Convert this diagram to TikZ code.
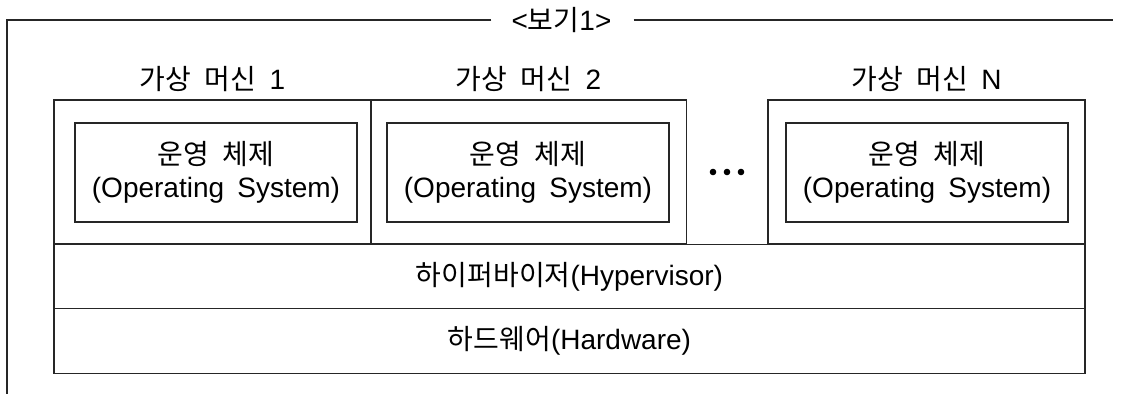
\documentclass[tikz,border=0pt]{standalone}
\usepackage{fontspec}
\setmainfont{Liberation Sans}[WordSpace=1.7]
\newfontfamily\kr{Noto Sans CJK KR}[Scale=1.0, WordSpace=2.2]
\usetikzlibrary{positioning}

\tikzset{
  txt/.style={font=\fontsize{28}{33}\selectfont, inner sep=0pt},
  vmbox/.style={draw=black!85, line width=1.3pt, minimum height=144pt, inner sep=0pt},
  osbox/.style={draw=black!85, line width=1.3pt, txt, align=center, minimum width=282pt, minimum height=99pt},
  layer/.style={draw=black!85, line width=1.3pt, txt, minimum width=1031pt, minimum height=64.5pt}
}

\begin{document}
\begin{tikzpicture}[x=1pt, y=-1pt]
        \useasboundingbox (0,0) rectangle (1128,394);

        % Frame with title
        \node[txt] (title) at (561.5,20) {<{\kr 보기}1>};
        \coordinate (fl) at (7,20);
        \coordinate (fb) at (7,394);
        \coordinate (fr) at (1113,20);
        \draw[black!85, line width=1.5pt] ([xshift=-20pt]title.west) -- (fl) -- (fb);
        \draw[black!85, line width=1.5pt] ([xshift=22pt]title.east) -- (fr);

        % Virtual machines
        \node[vmbox, minimum width=317pt] (vm1) at (212.5,172) {};
        \node[vmbox, minimum width=316pt] (vm2) at (528.5,172) {};
        \node[vmbox, minimum width=317pt] (vmn) at (926.5,172) {};

        \node[txt, above=7pt of vm1] (lab1) {{\kr 가상 머신} 1};
        \node[txt, above=7pt of vm2] (lab2) {{\kr 가상 머신} 2};
        \node[txt, above=7pt of vmn] (labn) {{\kr 가상 머신} N};

        % Operating systems
        \node[osbox] (os1) at (216,172.5) {{\kr 운영 체제}\\(Operating System)};
        \node[osbox] (os2) at (528,172.5) {{\kr 운영 체제}\\(Operating System)};
        \node[osbox] (osn) at (927,172.5) {{\kr 운영 체제}\\(Operating System)};

        % Dots
        \node (dots) at (727,172) {};
        \foreach \dx in {-14,0,14}
            \fill ([xshift=\dx pt]dots.center) circle (3.3pt);

        % Lower layers
        \node[layer] (hyper) at (569.5,276.5) {{\kr 하이퍼바이저}(Hypervisor)};
        \node[layer] (hw) at (569.5,341) {{\kr 하드웨어}(Hardware)};

    \end{tikzpicture}
\end{document}
